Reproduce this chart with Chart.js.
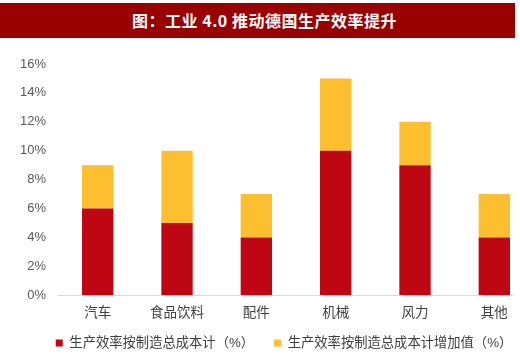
<!DOCTYPE html>
<html><head><meta charset="utf-8">
<script src="https://cdn.jsdelivr.net/npm/chart.js@4"></script>
<style>
html,body{margin:0;padding:0;background:#fff;width:520px;height:356px;overflow:hidden;}
#title{position:absolute;left:0;top:3px;width:501px;padding-left:14px;height:35px;background:#990000;color:#fff;
font-family:"Noto Sans CJK SC","DejaVu Serif",serif;font-weight:bold;font-size:16px;line-height:35px;text-align:center;letter-spacing:0.5px;}
#clip{position:absolute;left:0;top:40px;width:513px;height:316px;overflow:hidden;}
#wrap{position:absolute;left:0;top:0;width:545px;height:316px;}
</style></head><body>
<div id="title">图：工业 4.0 推动德国生产效率提升</div>
<div id="clip"><div id="wrap"><canvas id="c"></canvas></div></div>
<script>
const categories = ["汽车","食品饮料","配件","机械","风力","其他"];
const seriesNames = ["生产效率按制造总成本计（%）","生产效率按制造总成本计增加值（%）"];
const costValues = [6,5,4,10,9,4];
const addedValues = [3,5,3,5,3,3];
const yTicks = [0,2,4,6,8,10,12,14,16];
const font = '"Liberation Sans","Noto Sans CJK SC",sans-serif';
const legendFontSize = 13.3;
const legendPad = 20;
// moves the built-in legend to sit under the category labels
const legendShift = {
  id:'legendShift',
  afterLayout(chart){
    const lg = chart.legend; if(!lg) return;
    const dy = 303 - (lg.top + legendPad + legendFontSize/2);
    const dx = 13;
    lg.top += dy; lg.bottom += dy; lg.left += dx; lg.right += dx;
  }
};
new Chart(document.getElementById('c'), {
  type:'bar',
  data:{labels:categories, datasets:[
    {label:seriesNames[0], data:costValues, backgroundColor:'#BE0712', barPercentage:0.395, categoryPercentage:1},
    {label:seriesNames[1], data:addedValues, backgroundColor:'#FDBE2F', barPercentage:0.395, categoryPercentage:1}
  ]},
  plugins:[legendShift],
  options:{
    responsive:true, maintainAspectRatio:false, animation:false,
    layout:{padding:{left:8,right:11,top:24,bottom:-18}},
    plugins:{
      legend:{position:'bottom', labels:{boxWidth:7, boxHeight:7, color:'#404040', font:{family:font,size:legendFontSize}, padding:legendPad}},
      tooltip:{enabled:false}
    },
    scales:{
      x:{stacked:true, grid:{display:false, drawTicks:false}, border:{color:'#d9d9d9'},
         ticks:{color:'#404040', font:{family:font,size:13.5,lineHeight:1}, padding:11}},
      y:{stacked:true, min:0, max:16, grid:{display:false, drawTicks:false}, border:{display:false},
         afterBuildTicks:(ax)=>{ax.ticks=yTicks.map(v=>({value:v}));},
         ticks:{color:'#595959', font:{family:font,size:13}, padding:12, callback:v=>v+'%'}}
    }
  }
});
</script>
</body></html>
